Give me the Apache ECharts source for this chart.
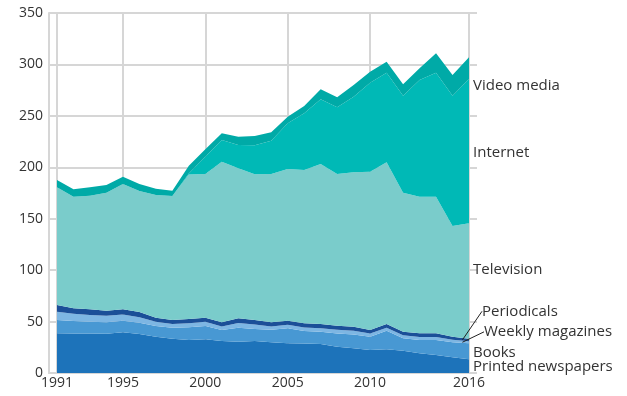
<!DOCTYPE html>
<html>
<head>
<meta charset="utf-8">
<script src="https://cdn.jsdelivr.net/npm/echarts@6/dist/echarts.min.js"></script>
<style>
  html, body { margin: 0; padding: 0; background: #fff; }
  #chart { width: 627px; height: 396px; }
</style>
</head>
<body>
<div id="chart"></div>
<script>
// Daily media use by channel, stacked (minutes per day)
const years = [1991,1992,1993,1994,1995,1996,1997,1998,1999,2000,2001,2002,2003,2004,2005,2006,2007,2008,2009,2010,2011,2012,2013,2014,2015,2016];

const printedNewspapers = [38.6,38.5,38.3,38.2,39.5,37.9,35.3,33.4,32.1,32.7,31.1,30.5,31.1,30.0,29.0,28.8,28.2,25.6,24.0,22.4,23.0,21.7,19.1,17.5,15.2,13.3];
const books             = [12.9,12.0,11.6,11.1,11.4,11.0,10.4,10.7,12.3,13.0,10.7,13.6,11.7,12.0,14.4,12.0,11.9,12.9,13.5,12.9,18.1,12.0,13.0,14.6,14.6,15.6];
const weeklyMagazines   = [8.1,7.0,6.5,6.3,6.0,5.4,4.1,3.5,4.0,4.1,3.5,4.6,4.3,3.3,3.5,3.5,3.5,3.5,3.5,3.0,3.0,3.0,3.0,3.0,2.5,2.0];
const periodicals       = [6.5,5.4,5.5,5.0,5.0,5.0,4.0,3.9,4.1,4.0,4.0,4.5,4.4,4.0,4.0,4.0,4.0,4.0,4.0,3.5,3.5,3.5,3.5,3.5,3.0,2.5];
const television        = [114.4,108.5,110.5,114.7,121.8,117.7,119.2,120.5,140.5,139.7,156.1,145.8,141.8,144.2,147.4,149.1,155.6,147.5,150.1,153.9,157.2,135.1,132.8,132.8,107.6,112.1];
const internet          = [0,0,0,0,0,0,0,0,1.0,16.8,21.1,22.7,28.2,32.3,44.4,55.1,62.9,64.8,73.5,86.5,87.1,94.3,113.4,120.6,126.7,140.3];
const videoMedia        = [7.1,7.2,8.1,7.5,7.2,6.7,6.2,5.3,7.4,7.2,6.5,8.1,9.0,8.2,6.5,7.1,9.7,9.7,11.4,10.7,10.8,11.1,11.4,18.8,20.1,21.1];

const xTickLabels = [1991, 1995, 2000, 2005, 2010, 2016];
const xGridYears  = [1991, 1995, 2000, 2005, 2010];

const seriesDefs = [
  { name: 'Printed newspapers', values: printedNewspapers, color: '#1d73ba' },
  { name: 'Books',              values: books,             color: '#4898d3' },
  { name: 'Weekly magazines',   values: weeklyMagazines,   color: '#7db6e3' },
  { name: 'Periodicals',        values: periodicals,       color: '#1b4f98' },
  { name: 'Television',         values: television,        color: '#7acccb' },
  { name: 'Internet',           values: internet,          color: '#00b9b6' },
  { name: 'Video media',        values: videoMedia,        color: '#00aaa7' }
];

// label layout at the right edge: [series name, label anchor value on y axis, x nudge]
const labelLayout = [
  ['Video media', 279, 0],
  ['Internet', 214, 0],
  ['Television', 100, 0],
  ['Periodicals', 60, 9],
  ['Weekly magazines', 40, 11],
  ['Books', 20, 0],
  ['Printed newspapers', 6.5, 0]
];

const FONT = '"Open Sans", "Noto Sans", sans-serif';
const GRID_COLOR = '#d6d6d6';

const chart = echarts.init(document.getElementById('chart'), null, { renderer: 'canvas' });

const option = {
  animation: false,
  backgroundColor: '#fff',
  grid: { left: 49, right: 158, top: 13, bottom: 23, containLabel: false },
  xAxis: {
    type: 'value',
    min: 1990.515,
    max: 2016,
    axisLine: { show: true, onZero: false, lineStyle: { color: GRID_COLOR, width: 2 } },
    axisTick: { show: false, customValues: xGridYears },
    splitLine: { show: true, lineStyle: { color: GRID_COLOR, width: 2 } },
    axisLabel: {
      customValues: xTickLabels,
      color: '#333', fontSize: 14, fontFamily: FONT, margin: 3,
      formatter: v => String(v)
    }
  },
  yAxis: [
    {
      type: 'value', min: 0, max: 350, interval: 50,
      axisLine: { show: true, lineStyle: { color: GRID_COLOR, width: 2 } },
      axisTick: { show: false },
      splitLine: { show: true, lineStyle: { color: GRID_COLOR, width: 2 } },
      axisLabel: { color: '#333', fontSize: 14, fontFamily: FONT, margin: 6 }
    },
    {
      type: 'value', min: 0, max: 350, interval: 50, position: 'right',
      axisLine: { show: true, lineStyle: { color: GRID_COLOR, width: 2 } },
      axisTick: { show: true, inside: false, length: 8, lineStyle: { color: GRID_COLOR, width: 2 } },
      splitLine: { show: false },
      axisLabel: { show: false }
    }
  ],
  // value column first so the stack accumulates along the y axis
  series: seriesDefs.map(s => ({
    name: s.name,
    type: 'line',
    stack: 'media',
    data: years.map((y, i) => [s.values[i], y]),
    encode: { x: 1, y: 0 },
    showSymbol: false,
    symbol: 'none',
    lineStyle: { width: 0 },
    areaStyle: { color: s.color, opacity: 1 },
    itemStyle: { color: s.color },
    silent: true
  }))
};

chart.setOption(option);

// cumulative stack values in the last year, to anchor the leader lines
const last = years.length - 1;
function stackTop(idx) {
  let sum = 0;
  for (let k = 0; k <= idx; k++) sum += seriesDefs[k].values[last];
  return sum;
}
function stackMid(idx) {
  return stackTop(idx) - seriesDefs[idx].values[last] / 2;
}

const rightEdge = chart.convertToPixel({ gridIndex: 0 }, [years[last], 0])[0];
const elements = [];
labelLayout.forEach(([name, yVal, dx]) => {
  const py = chart.convertToPixel({ yAxisIndex: 0 }, yVal);
  elements.push({
    type: 'text',
    x: rightEdge + 4 + dx,
    y: py,
    silent: true,
    style: {
      text: name,
      font: '15px ' + FONT,
      fill: '#333',
      verticalAlign: 'middle',
      align: 'left'
    },
    z: 10
  });
});

// leader lines for the two thin bands
[['Periodicals', 3], ['Weekly magazines', 2]].forEach(([name, idx]) => {
  const entry = labelLayout.find(l => l[0] === name);
  const ly = chart.convertToPixel({ yAxisIndex: 0 }, entry[1]);
  const anchor = chart.convertToPixel({ gridIndex: 0 }, [years[last] - 0.4, stackMid(idx)]);
  elements.push({
    type: 'line',
    silent: true,
    shape: { x1: rightEdge + 4 + entry[2], y1: ly, x2: anchor[0], y2: anchor[1] },
    style: { stroke: '#222', lineWidth: 1 },
    z: 10
  });
});

chart.setOption({ graphic: { elements } });
</script>
</body>
</html>
